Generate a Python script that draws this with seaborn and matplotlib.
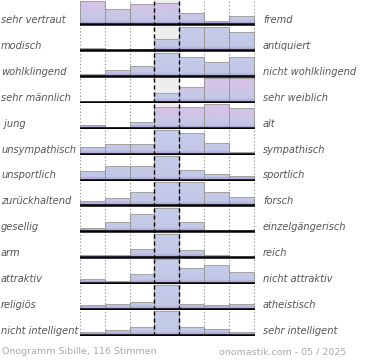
import numpy as np
import pandas as pd
import matplotlib
matplotlib.use("Agg")
import matplotlib.pyplot as plt
import matplotlib.colors as mcolors
import seaborn as sns

# ==============================
# Data (bar heights, per row)
# ==============================

left_labels = ["sehr vertraut", "modisch", "wohlklingend", "sehr männlich", " jung",
               "unsympathisch", "unsportlich", "zurückhaltend", "gesellig", "arm",
               "attraktiv", "religiös", "nicht intelligent"]
right_labels = ["fremd", "antiquiert", "nicht wohlklingend", "sehr weiblich", "alt",
                "sympathisch", "sportlich", "forsch", "einzelgängerisch", "reich",
                "nicht attraktiv", "atheistisch", "sehr intelligent"]

row_values = [
    [25, 16, 22, 22.5, 12, 3.5, 9],
    [2.7, 0, 1.5, 12.5, 25, 25, 19],
    [2, 6, 11, 25, 20, 15.5, 20],
    [0, 1.3, 1.3, 8.7, 15, 24, 24],
    [3, 1, 6, 22, 22, 24.3, 20],
    [6.7, 9, 9, 23, 20, 10, 1.7],
    [8.7, 13.3, 13.3, 22.7, 9.3, 5.3, 3.3],
    [4.3, 7.7, 13.3, 24, 24, 13.3, 8.7],
    [3.7, 9, 17.7, 24, 9, 1.7, 1.7],
    [2, 2, 8.7, 24, 7, 2, 0],
    [4.3, 2.3, 9, 24, 15, 18.7, 11],
    [3.7, 5, 6.7, 24, 4.7, 3.7, 4.7],
    [2.3, 4.3, 8.3, 24, 8.3, 5.3, 2.3],
]

# which bars have the pink tint on top
pink_bars = [
    [1, 1, 1, 1, 1, 1, 1],
    [0, 0, 0, 0, 0, 0, 0],
    [0, 0, 0, 0, 0, 0, 0],
    [0, 0, 0, 0, 1, 1, 1],
    [0, 0, 0, 1, 1, 1, 1],
    [0, 0, 0, 0, 0, 0, 0],
    [0, 0, 0, 0, 0, 0, 0],
    [0, 0, 0, 0, 0, 0, 0],
    [0, 0, 0, 0, 0, 0, 0],
    [0, 0, 0, 0, 0, 0, 0],
    [0, 0, 0, 0, 0, 0, 0],
    [0, 0, 0, 0, 0, 0, 0],
    [0, 0, 0, 0, 0, 0, 0],
]

bins = list(range(1, 8))
footer_left = "Onogramm Sibille, 116 Stimmen"
footer_right = "onomastik.com - 05 / 2025"

# ==============================
# Style
# ==============================

sns.set_style("white")
plt.rcParams['font.family'] = ['DejaVu Sans']

W, H = 370, 360
ROW_H = 25.85
X0, X1 = 80, 255


def gradient(top_hex):
    top = np.array(mcolors.to_rgb(top_hex))
    mid = np.array(mcolors.to_rgb("#c2c8e6"))
    bot = np.array(mcolors.to_rgb("#ab9bd2"))
    t = np.linspace(0, 1, 100)[:, None]
    g = np.where(t < 0.85, top + (mid - top) * (t / 0.85),
                 mid + (bot - mid) * ((t - 0.85) / 0.15))
    return g[:, None, :]


fig = plt.figure(figsize=(W / 100, H / 100), dpi=100)

for i, vals in enumerate(row_values):
    top_px = i * ROW_H
    ax = fig.add_axes([X0 / W, 1 - (top_px + ROW_H) / H, (X1 - X0) / W, ROW_H / H])
    rel = np.array(vals) / max(vals)
    df = pd.DataFrame({"bin": bins, "val": rel})
    ymin, ymax = -0.06, 1.04
    sns.barplot(data=df, x="bin", y="val", width=1.0, ax=ax, color="#c4cce8",
                edgecolor="#a2a2a2", linewidth=0.7, zorder=2)
    for j, p in enumerate(ax.containers[0]):
        p.set_facecolor("none")
        if p.get_height() <= 0:
            p.set_edgecolor("none")
            continue
        top_col = "#dcc2e6" if pink_bars[i][j] else "#c6cdea"
        im = ax.imshow(gradient(top_col), extent=[p.get_x(), p.get_x() + p.get_width(), 0, 1.0],
                       aspect="auto", zorder=1.5, interpolation="bilinear")
        im.set_clip_path(p)
    ax.axvspan(2.5, 3.5, color="#eeeeee", zorder=0)
    for xv in [-0.5, 0.5, 1.5, 4.5, 5.5, 6.5]:
        ax.axvline(xv, color="#888888", lw=0.8, ls=(0, (1, 2)), zorder=3)
    for xv in [2.5, 3.5]:
        ax.axvline(xv, color="black", lw=1.0, ls=(0, (3, 2)), zorder=3)
    ax.axhline(0, color="black", lw=1.8, zorder=4)
    ax.set_xlim(-0.5, 6.55)
    ax.set_ylim(ymin, ymax)
    ax.set_axis_off()

    ytxt = 1 - (top_px + ROW_H - 5.5) / H
    fig.text(1 / W, ytxt, left_labels[i], fontsize=7.1, style="italic",
             color="#555555", va="center", ha="left")
    fig.text(263 / W, ytxt, right_labels[i], fontsize=7.1, style="italic",
             color="#555555", va="center", ha="left")

fig.text(2 / W, 1 - 352 / H, footer_left, fontsize=6.8, color="#aaaaaa", va="center", ha="left")
fig.text(346 / W, 1 - 352 / H, footer_right, fontsize=6.8, color="#aaaaaa", va="center", ha="right")

fig.savefig("out.png", dpi=100)
